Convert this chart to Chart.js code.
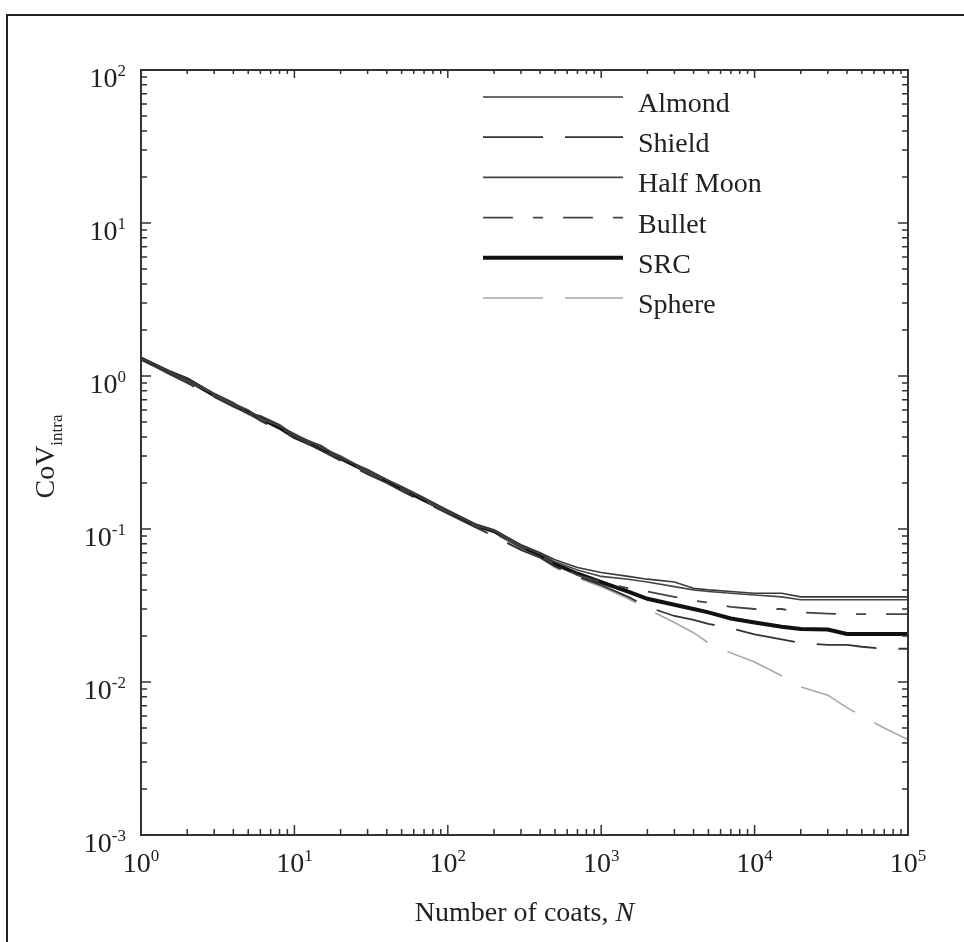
<!DOCTYPE html>
<html>
<head>
<meta charset="utf-8">
<script src="https://cdn.jsdelivr.net/npm/chart.js@4.4.1/dist/chart.umd.min.js"></script>
<style>
body { margin: 0; background: #fff; overflow: hidden; }
#wrap { position: relative; width: 964px; height: 942px; }
</style>
</head>
<body>
<div id="wrap"><canvas id="covChart"></canvas></div>
<script>
// Number of coats, N (shared x values for every curve)
const coats = [1, 1.5, 2, 3, 4, 5, 6, 8, 10, 15, 20, 30, 40, 50, 70, 100, 150, 200, 300, 400,
    500, 700, 1000, 1500, 2000, 3000, 4000, 5000, 7000, 10000, 15000, 20000, 30000, 40000, 50000, 70000, 100000];

// CoV_intra
const almond = [1.30, 1.09, 0.96, 0.77, 0.67, 0.57, 0.55, 0.48, 0.41, 0.35, 0.29, 0.245, 0.21, 0.19, 0.16, 0.132, 0.108, 0.098, 0.079, 0.070,
    0.063, 0.056, 0.052, 0.049, 0.047, 0.045, 0.041, 0.040, 0.039, 0.038, 0.038, 0.036, 0.036, 0.036, 0.036, 0.036, 0.036];
const shield = [1.29, 1.04, 0.90, 0.73, 0.63, 0.57, 0.51, 0.44, 0.40, 0.325, 0.28, 0.228, 0.20, 0.177, 0.15, 0.126, 0.103, 0.090, 0.073, 0.065,
    0.057, 0.049, 0.043, 0.036, 0.031, 0.027, 0.0255, 0.024, 0.0225, 0.0205, 0.019, 0.018, 0.0175, 0.0175, 0.017, 0.0165, 0.0165];
const halfMoon = [1.31, 1.07, 0.93, 0.76, 0.66, 0.60, 0.53, 0.47, 0.42, 0.34, 0.30, 0.24, 0.21, 0.187, 0.157, 0.131, 0.107, 0.097, 0.078, 0.069,
    0.061, 0.054, 0.049, 0.047, 0.045, 0.042, 0.040, 0.039, 0.038, 0.037, 0.036, 0.0345, 0.0345, 0.0345, 0.0345, 0.0345, 0.0345];
const bullet = [1.30, 1.06, 0.92, 0.74, 0.65, 0.58, 0.52, 0.46, 0.41, 0.33, 0.29, 0.234, 0.205, 0.181, 0.154, 0.128, 0.105, 0.094, 0.076, 0.067,
    0.059, 0.050, 0.045, 0.041, 0.039, 0.036, 0.034, 0.033, 0.031, 0.030, 0.030, 0.0285, 0.028, 0.0278, 0.0278, 0.0278, 0.0278];
const src = [1.30, 1.07, 0.95, 0.75, 0.65, 0.58, 0.53, 0.46, 0.40, 0.335, 0.29, 0.237, 0.206, 0.184, 0.155, 0.13, 0.106, 0.097, 0.077, 0.068,
    0.059, 0.051, 0.045, 0.039, 0.035, 0.032, 0.030, 0.0285, 0.026, 0.0245, 0.023, 0.0222, 0.022, 0.0206, 0.0206, 0.0206, 0.0206];
const sphere = [1.29, 1.05, 0.91, 0.74, 0.64, 0.56, 0.52, 0.45, 0.40, 0.33, 0.283, 0.231, 0.20, 0.178, 0.151, 0.127, 0.103, 0.089, 0.073, 0.065,
    0.056, 0.048, 0.042, 0.035, 0.030, 0.0245, 0.021, 0.018, 0.0155, 0.0135, 0.011, 0.0093, 0.0082, 0.0068, 0.006, 0.0050, 0.0042];

const seriesNames = ['Almond', 'Shield', 'Half Moon', 'Bullet', 'SRC', 'Sphere'];
const xTickPowers = [0, 1, 2, 3, 4, 5];
const yTickPowers = [-3, -2, -1, 0, 1, 2];

const SERIF = '"Liberation Serif", "Times New Roman", serif';

function toPoints(values) {
    return coats.map((n, i) => ({ x: n, y: values[i] }));
}

// "10" with a raised exponent
function drawPower(ctx, p, x, baseline, align) {
    const exp = String(p);
    ctx.font = '28px ' + SERIF;
    const w10 = ctx.measureText('10').width;
    ctx.font = '17px ' + SERIF;
    const we = ctx.measureText(exp).width;
    let start = align === 'right' ? x - w10 - we : x - (w10 + we) / 2;
    ctx.textAlign = 'left';
    ctx.font = '28px ' + SERIF;
    ctx.fillText('10', start, baseline);
    ctx.font = '17px ' + SERIF;
    ctx.fillText(exp, start + w10, baseline - 11);
}

const figurePlugin = {
    id: 'figure',
    afterDraw(chart) {
        const ctx = chart.ctx;
        const area = chart.chartArea;
        const xs = chart.scales.x;
        const ys = chart.scales.y;
        ctx.save();

        // outer frame (top and left edges of the scan)
        ctx.strokeStyle = '#222';
        ctx.lineWidth = 2;
        ctx.beginPath();
        ctx.moveTo(7, 942);
        ctx.lineTo(7, 15);
        ctx.lineTo(964, 15);
        ctx.stroke();

        // axes box
        ctx.strokeStyle = '#333';
        ctx.lineWidth = 2;
        ctx.strokeRect(area.left, area.top, area.right - area.left, area.bottom - area.top);

        // inward ticks on all four sides
        ctx.lineWidth = 1.5;
        ctx.beginPath();
        xTickPowers.forEach(p => {
            for (let m = 1; m <= 9; m++) {
                if (p === xTickPowers[xTickPowers.length - 1] && m > 1) break;
                const px = xs.getPixelForValue(m * Math.pow(10, p));
                const len = m === 1 ? 10 : 6;
                ctx.moveTo(px, area.bottom); ctx.lineTo(px, area.bottom - len);
                ctx.moveTo(px, area.top); ctx.lineTo(px, area.top + len - 2);
            }
        });
        yTickPowers.forEach(p => {
            for (let m = 1; m <= 9; m++) {
                if (p === yTickPowers[yTickPowers.length - 1] && m > 1) break;
                const py = ys.getPixelForValue(m * Math.pow(10, p));
                const len = m === 1 ? 10 : 6;
                ctx.moveTo(area.left, py); ctx.lineTo(area.left + len, py);
                ctx.moveTo(area.right, py); ctx.lineTo(area.right - len, py);
            }
        });
        ctx.stroke();

        // tick labels
        ctx.fillStyle = '#222';
        xTickPowers.forEach(p => {
            drawPower(ctx, p, xs.getPixelForValue(Math.pow(10, p)), area.bottom + 37, 'center');
        });
        yTickPowers.forEach(p => {
            drawPower(ctx, p, area.left - 15, ys.getPixelForValue(Math.pow(10, p)) + 17, 'right');
        });

        // x title
        ctx.font = '28px ' + SERIF;
        const t1 = 'Number of coats, ';
        const w1 = ctx.measureText(t1).width;
        ctx.font = 'italic 28px ' + SERIF;
        const w2 = ctx.measureText('N').width;
        const cx = (area.left + area.right) / 2;
        let sx = cx - (w1 + w2) / 2;
        ctx.font = '28px ' + SERIF;
        ctx.fillText(t1, sx, 921);
        ctx.font = 'italic 28px ' + SERIF;
        ctx.fillText('N', sx + w1, 921);

        // y title: CoV with subscript "intra"
        ctx.save();
        ctx.translate(54, (area.top + area.bottom) / 2 + 4);
        ctx.rotate(-Math.PI / 2);
        ctx.font = '28px ' + SERIF;
        const wc = ctx.measureText('CoV').width;
        ctx.font = '17px ' + SERIF;
        const ws = ctx.measureText('intra').width;
        const sy = -(wc + ws) / 2;
        ctx.font = '28px ' + SERIF;
        ctx.fillText('CoV', sy, 0);
        ctx.font = '17px ' + SERIF;
        ctx.fillText('intra', sy + wc, 8);
        ctx.restore();

        // legend
        chart.data.datasets.forEach((ds, i) => {
            const base = 112 + i * 40.2;
            ctx.save();
            ctx.strokeStyle = ds.borderColor;
            ctx.lineWidth = ds.borderWidth;
            ctx.setLineDash(ds.borderDash || []);
            ctx.beginPath();
            ctx.moveTo(483, base - 15);
            ctx.lineTo(623, base - 15);
            ctx.stroke();
            ctx.restore();
            ctx.fillStyle = '#222';
            ctx.font = '28px ' + SERIF;
            ctx.fillText(ds.label, 638, base);
        });

        ctx.restore();
    }
};

const styles = [
    { color: '#3a3a3a', width: 1.6, dash: [] },
    { color: '#333333', width: 1.8, dash: [60, 22] },
    { color: '#454545', width: 1.6, dash: [] },
    { color: '#444444', width: 1.8, dash: [30, 20, 10, 20] },
    { color: '#111111', width: 4, dash: [] },
    { color: '#a8a8a8', width: 1.6, dash: [60, 22] }
];
const seriesValues = [almond, shield, halfMoon, bullet, src, sphere];

new Chart(document.getElementById('covChart'), {
    type: 'line',
    data: {
        datasets: seriesValues.map((vals, i) => ({
            label: seriesNames[i],
            data: toPoints(vals),
            borderColor: styles[i].color,
            borderWidth: styles[i].width,
            borderDash: styles[i].dash,
            pointRadius: 0,
            tension: 0,
            fill: false
        }))
    },
    plugins: [figurePlugin],
    options: {
        responsive: true,
        maintainAspectRatio: false,
        animation: false,
        layout: { padding: { left: 141, top: 70, right: 56, bottom: 107 } },
        plugins: { legend: { display: false }, tooltip: { enabled: false } },
        scales: {
            x: { type: 'logarithmic', min: 1, max: 100000, display: false },
            y: { type: 'logarithmic', min: 0.001, max: 100, display: false }
        }
    }
});
</script>
</body>
</html>
